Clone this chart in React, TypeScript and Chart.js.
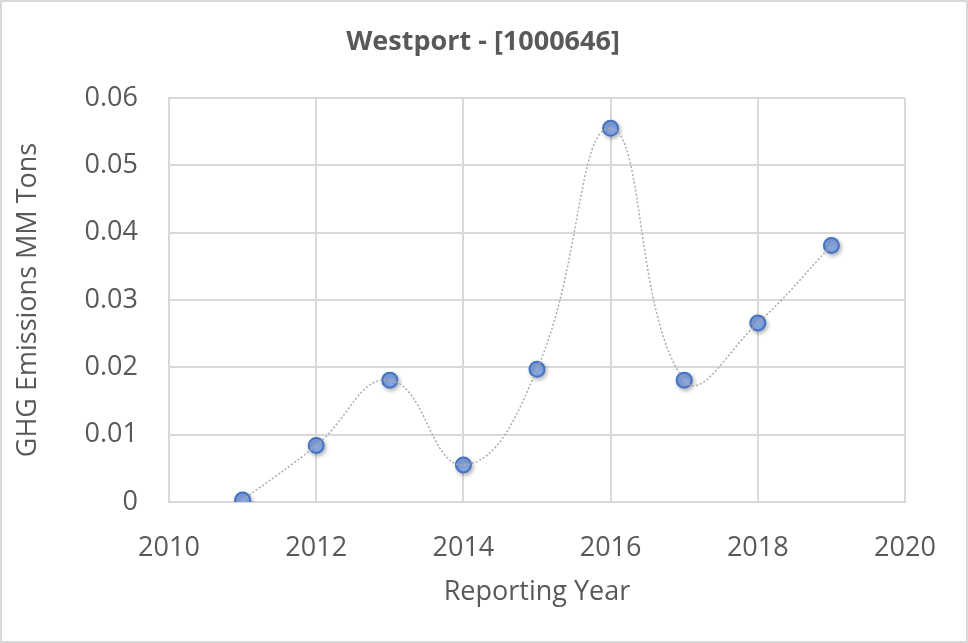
import React, { useEffect, useRef } from "react";
import { Chart, registerables } from "chart.js";

Chart.register(...registerables);

const title = "Westport - [1000646]";
const xTitle = "Reporting Year";
const yTitle = "GHG Emissions MM Tons";
const years = [2011, 2012, 2013, 2014, 2015, 2016, 2017, 2018, 2019];
const emissions = [0.0003, 0.0084, 0.0181, 0.0055, 0.0197, 0.0555, 0.0181, 0.0266, 0.0381];
const xMin = 2010;
const xMax = 2020;
const xStep = 2;
const yMin = 0;
const yMax = 0.06;
const yStep = 0.01;

const FONT = "'Open Sans', 'Noto Sans', sans-serif";
const TEXT = "#595959";
const GRID = "#d9d9d9";

export default function App() {
  const ref = useRef<HTMLCanvasElement>(null);

  useEffect(() => {
    document.body.style.margin = "0";
    const canvas = ref.current;
    if (!canvas) return;
    const pts = years.map((x, i) => ({ x, y: emissions[i] }));

    const titlePlugin = {
      id: "customTitle",
      afterDraw(chart: any) {
        const ctx = chart.ctx;
        ctx.save();
        ctx.font = `bold 27px ${FONT}`;
        ctx.fillStyle = TEXT;
        ctx.textAlign = "center";
        ctx.textBaseline = "middle";
        ctx.fillText(title, 481, 40);
        ctx.restore();
      },
    };

    const shadowPlugin = {
      id: "pointShadow",
      beforeDatasetDraw(chart: any, args: any) {
        if (args.index === 1) {
          const ctx = chart.ctx;
          ctx.save();
          ctx.shadowColor = "rgba(0,0,0,0.28)";
          ctx.shadowBlur = 4;
          ctx.shadowOffsetX = 1.5;
          ctx.shadowOffsetY = 2;
        }
      },
      afterDatasetDraw(chart: any, args: any) {
        if (args.index === 1) chart.ctx.restore();
      },
    };

    const chart = new Chart(canvas, {
      type: "scatter",
      data: {
        datasets: [
          {
            data: pts,
            showLine: true,
            borderColor: "#ababab",
            borderWidth: 1.5,
            borderDash: [2, 2],
            tension: 0.45,
            pointRadius: 0,
            pointHoverRadius: 0,
          },
          {
            data: pts,
            showLine: false,
            pointRadius: 7.5,
            pointBorderWidth: 2,
            pointBackgroundColor: "#85a5e2",
            pointBorderColor: "#4472c4",
          },
        ],
      },
      options: {
        animation: false,
        responsive: false,
        events: [],
        layout: { padding: { left: 0, right: 61, top: 96, bottom: 0 } },
        plugins: {
          legend: { display: false },
          tooltip: { enabled: false },
          title: { display: false },
        },
        scales: {
          x: {
            type: "linear",
            min: xMin,
            max: xMax,
            ticks: {
              stepSize: xStep,
              color: TEXT,
              font: { family: FONT, size: 27 },
              padding: 30,
              callback: (v: any) => String(v),
            },
            grid: { color: GRID, lineWidth: 2, drawTicks: false },
            border: { display: true, color: GRID, width: 2 },
            title: {
              display: true,
              text: xTitle,
              color: TEXT,
              font: { family: FONT, size: 27 },
              padding: { top: 0, bottom: 32 },
            },
            afterFit: (s: any) => {
              s.height = 139;
            },
          },
          y: {
            type: "linear",
            min: yMin,
            max: yMax,
            ticks: {
              stepSize: yStep,
              color: TEXT,
              font: { family: FONT, size: 27 },
              padding: 31,
              callback: (v: any) => String(parseFloat(Number(v).toFixed(2))),
            },
            grid: { color: GRID, lineWidth: 2, drawTicks: false },
            border: { display: true, color: GRID, width: 2 },
            title: {
              display: true,
              text: yTitle,
              color: TEXT,
              font: { family: FONT, size: 27 },
              padding: { top: 10, bottom: 0 },
            },
            afterFit: (s: any) => {
              s.width = 167;
            },
          },
        },
      },
      plugins: [titlePlugin, shadowPlugin],
    });
    return () => chart.destroy();
  }, []);

  return (
    <div
      style={{
        position: "absolute",
        left: 0,
        top: 0,
        width: 968,
        height: 643,
        boxSizing: "border-box",
        border: "2px solid #d9d9d9",
        background: "#fff",
      }}
    >
      <canvas ref={ref} width={964} height={639} style={{ display: "block" }} />
    </div>
  );
}
